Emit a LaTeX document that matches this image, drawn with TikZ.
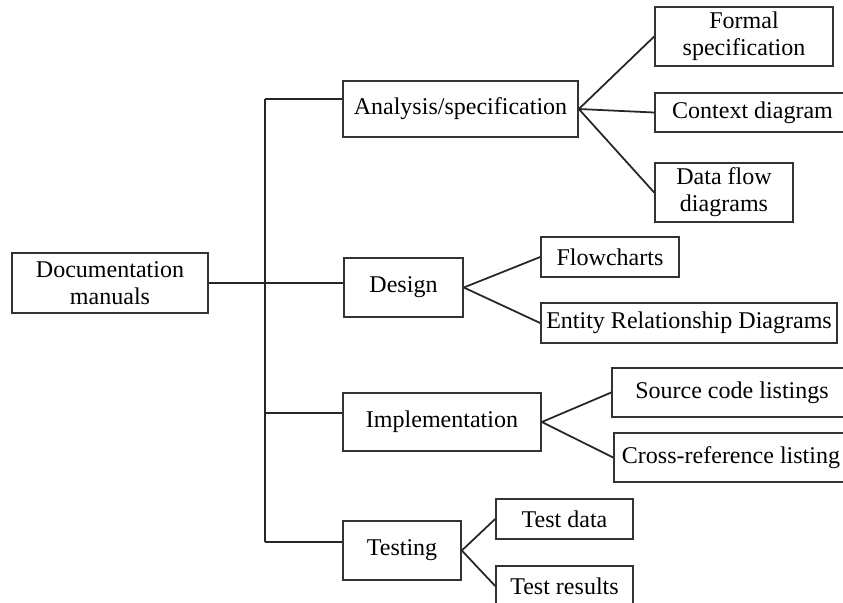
\documentclass[tikz,border=0pt]{standalone}
\usepackage{fontspec}
\setmainfont{Liberation Serif}
\usepackage{xcolor}
\usepackage{tikz}

\tikzset{
  box/.style={draw=black!80, rectangle, align=center, inner sep=0pt, line width=1.4pt,
              font=\fontsize{20.5}{23}\selectfont},
  link/.style={draw=black!85, line width=1.5pt}
}

\begin{document}
\begin{tikzpicture}[x=0.03cm, y=-0.03cm]
                  \useasboundingbox (0,0) rectangle (843,602);
                  \clip (0,0) rectangle (843,602);

                  % Root
                  \node [box, minimum width=5.88cm, minimum height=1.8cm] (doc) at (110,283) {Documentation\\manuals};

                  % Phases
                  \node [box, minimum width=7.05cm, minimum height=1.68cm] (ana) at (460.5,109) {Analysis/specification};
                  \node [box, minimum width=3.57cm, minimum height=1.77cm] (des) at (403.5,287.5) {Design};
                  \node [box, minimum width=5.94cm, minimum height=1.74cm] (imp) at (442,422) {Implementation};
                  \node [box, minimum width=3.54cm, minimum height=1.77cm] (tst) at (402,550.5) {Testing};

                  % Analysis documents
                  \node [box, minimum width=5.34cm, minimum height=1.77cm] (formal) at (744,36.5) {Formal\\specification};
                  \node [box, minimum width=5.85cm, minimum height=1.17cm] (context) at (752.5,112.5) {Context diagram};
                  \node [box, minimum width=4.14cm, minimum height=1.77cm] (dfd) at (724,192.5) {Data flow\\diagrams};

                  % Design documents
                  \node [box, minimum width=4.14cm, minimum height=1.2cm] (flow) at (610,257) {Flowcharts};
                  \node [box, minimum width=8.88cm, minimum height=1.2cm] (erd) at (689,323) {Entity Relationship Diagrams};

                  % Implementation documents
                  \node [box, minimum width=7.2cm, minimum height=1.47cm] (src) at (732,392.5) {Source code listings};
                  \node [box, minimum width=7.02cm, minimum height=1.47cm] (xref) at (731,457.5) {Cross-reference listing};

                  % Testing documents
                  \node [box, minimum width=4.11cm, minimum height=1.2cm] (tdata) at (564.5,519) {Test data};
                  \node [box, minimum width=4.11cm, minimum height=1.2cm] (tres) at (564.5,586) {Test results};

                  % Trunk and branches
                  \coordinate (t1) at (265,99);
                  \coordinate (t3) at (265,413);
                  \coordinate (t4) at (265,542);
                  \draw [link] (t1) -- (t4);
                  \draw [link] (doc.east) -- (doc.east -| des.west);
                  \draw [link] (t1) -- (t1 -| ana.west);
                  \draw [link] (t3) -- (t3 -| imp.west);
                  \draw [link] (t4) -- (t4 -| tst.west);

                  % Fans
                  \draw [link] (ana.east) -- (formal.west);
                  \draw [link] (ana.east) -- (context.west);
                  \draw [link] (ana.east) -- (dfd.west);
                  \draw [link] (des.east) -- (flow.west);
                  \draw [link] (des.east) -- (erd.west);
                  \draw [link] (imp.east) -- (src.west);
                  \draw [link] (imp.east) -- (xref.west);
                  \draw [link] (tst.east) -- (tdata.west);
                  \draw [link] (tst.east) -- (tres.west);
              \end{tikzpicture}
\end{document}
